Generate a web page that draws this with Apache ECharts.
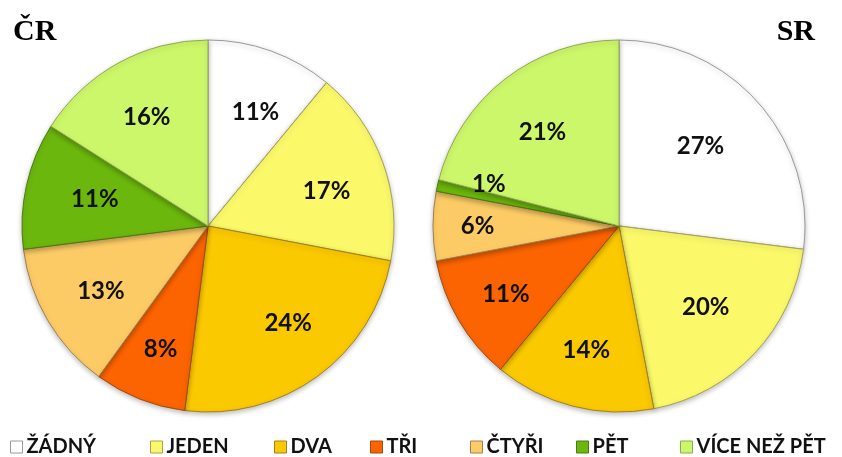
<!DOCTYPE html>
<html>
<head>
<meta charset="utf-8">
<script src="https://cdn.jsdelivr.net/npm/echarts@6/dist/echarts.min.js"></script>
<style>
  html, body { margin: 0; padding: 0; background: #ffffff; }
  #chart { width: 842px; height: 457px; }
</style>
</head>
<body>
<div id="chart"></div>
<script>
// Number of items per household, share in percent
const categories = ['ŽÁDNÝ', 'JEDEN', 'DVA', 'TŘI', 'ČTYŘI', 'PĚT', 'VÍCE NEŽ PĚT'];
const valuesCR = [11, 17, 24, 8, 13, 11, 16];
const valuesSR = [27, 20, 14, 11, 6, 1, 21];
const colors = ['#ffffff', '#fbf96a', '#fbc900', '#fb6400', '#fccb66', '#6cb70e', '#cdf76a'];
const borderColors = ['#9a9a9a', '#a8a050', '#a08020', '#a04a10', '#a08050', '#4a7a10', '#90a850'];

// Layout constants
const R = 186;
const centers = [[208, 226], [619, 226]];
const legendLeft = [10, 150, 274, 370, 470, 576, 680];
// small nudges of the percentage labels away from the slice mid-line
const labelNudgeCR = [[3, 10], [-5, 10], [3, -9], [1, 1], [6, -2], [15, 2], [2, 6]];
const labelNudgeSR = [[-17, 7], [-9, -9], [0, -3], [0, 1], [-10, 0], [-2, -13], [4, 10]];

const pctFont = { fontFamily: 'Lato', fontWeight: 'bold', fontSize: 24, color: '#111' };

function slices(values) {
  return categories.map((name, i) => ({
    name: name,
    value: values[i],
    itemStyle: { color: colors[i], borderColor: borderColors[i] }
  }));
}

function piePair(values, center, nudge) {
  return [
    {
      type: 'pie',
      center: center,
      radius: [0, R],
      startAngle: 90,
      clockwise: true,
      silent: true,
      label: { show: false },
      labelLine: { show: false },
      itemStyle: {
        borderWidth: 1,
        shadowBlur: 5,
        shadowOffsetY: 2,
        shadowColor: 'rgba(0,0,0,0.25)'
      },
      data: slices(values)
    },
    {
      // label layer: same slices, invisible, wider so labels sit at ~2/3 radius
      type: 'pie',
      center: center,
      radius: [0, R * 1.38],
      startAngle: 90,
      clockwise: true,
      silent: true,
      z: 5,
      legendHoverLink: false,
      itemStyle: { color: 'rgba(0,0,0,0)', borderWidth: 0 },
      label: Object.assign({ show: true, position: 'inside', formatter: '{c}%' }, pctFont),
      labelLine: { show: false },
      data: categories.map((name, i) => ({
        name: name,
        value: values[i],
        label: { offset: nudge[i] }
      }))
    }
  ];
}

const legends = categories.map((name, i) => ({
  left: legendLeft[i],
  top: 437,
  padding: 0,
  orient: 'horizontal',
  icon: 'rect',
  itemWidth: 12,
  itemHeight: 12,
  itemGap: 6,
  selectedMode: false,
  textStyle: { fontFamily: 'Lato', fontWeight: 'bold', fontSize: 20, color: '#111', padding: [0, 0, 0, -1] },
  data: [{ name: name, itemStyle: { color: colors[i], borderColor: borderColors[i], borderWidth: 1 } }]
}));

const chart = echarts.init(document.getElementById('chart'), null, { renderer: 'canvas' });
chart.setOption({
  backgroundColor: '#ffffff',
  animation: false,
  title: [
    { text: 'ČR', left: 8, top: 12, textStyle: { fontFamily: 'Liberation Serif', fontWeight: 'bold', fontSize: 30, color: '#000' } },
    { text: 'SR', right: 22, top: 12, textStyle: { fontFamily: 'Liberation Serif', fontWeight: 'bold', fontSize: 30, color: '#000' } }
  ],
  legend: legends,
  series: piePair(valuesCR, centers[0], labelNudgeCR).concat(piePair(valuesSR, centers[1], labelNudgeSR))
});
</script>
</body>
</html>
